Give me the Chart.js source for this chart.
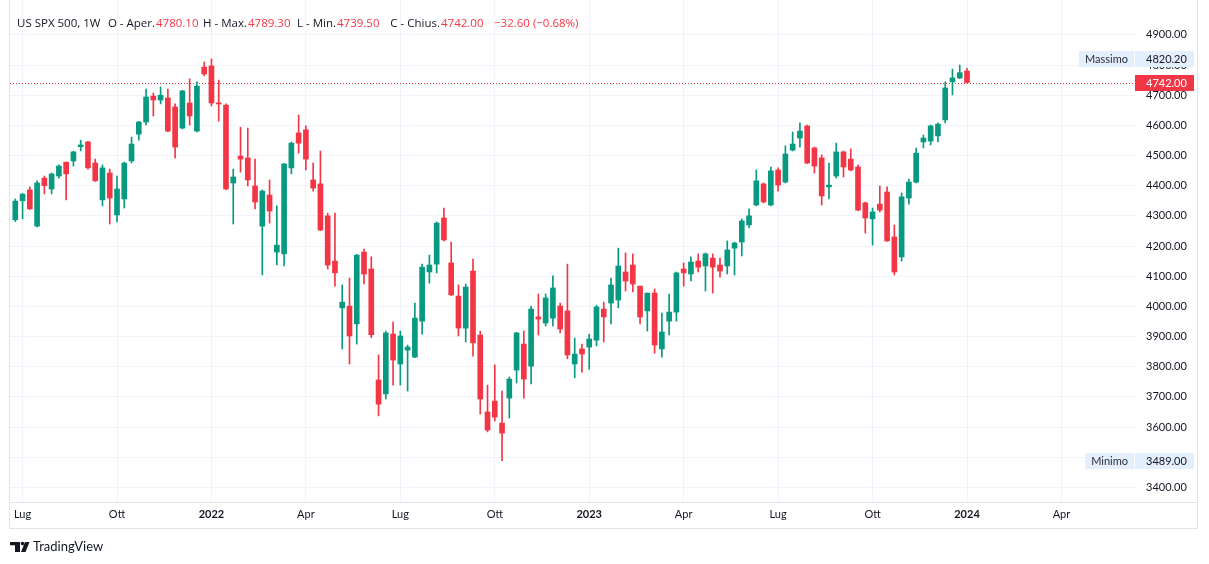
<!DOCTYPE html>
<html>
<head>
<meta charset="utf-8">
<script src="https://cdn.jsdelivr.net/npm/chart.js@4.4.1/dist/chart.umd.min.js"></script>
<style>
html, body { margin: 0; padding: 0; background: #fff; }
canvas { display: block; }
</style>
</head>
<body>
<canvas id="chart" width="1209" height="564"></canvas>
<script>
// weekly candles, first one = week of 28 Jun 2021
const firstWeek = "2021-06-28";
const opens = [4287,4350,4386,4266,4425,4389,4432,4478,4482,4529,4545,4475,4353,4442,4303,4356,4482,4571,4611,4697,
  4684,4691,4661,4591,4674,4581,4793,4797,4674,4667,4409,4498,4492,4399,4266,4369,4180,4174,4459,4575,
  4585,4419,4406,4300,4150,3995,4001,3942,4180,4124,3756,3710,3908,3809,3855,3832,3951,4114,4140,4293,
  4144,4034,3928,4117,3905,3650,3686,3613,3696,3789,3875,3802,3965,3945,3961,4001,3985,3809,3859,3865,
  3888,3991,4011,4021,4114,4137,4067,3985,4044,3859,3951,3981,4124,4107,4150,4134,4160,4137,4134,4193,
  4213,4270,4336,4406,4336,4452,4412,4518,4558,4598,4525,4492,4396,4432,4512,4488,4462,4343,4290,4339,
  4379,4230,4164,4359,4412,4545,4548,4565,4618,4744,4757,4780.1];
const highs = [4356,4374,4396,4416,4432,4442,4469,4478,4514,4551,4547,4488,4469,4455,4432,4478,4561,4613,4720,4707,
  4727,4720,4671,4716,4754,4744,4810,4820.2,4750,4671,4455,4594,4591,4488,4386,4419,4333,4474,4545,4634,
  4598,4475,4515,4309,4309,4071,4094,4172,4190,4164,3839,3918,3948,3918,3872,4011,4140,4170,4280,4326,
  4213,4071,4074,4157,3918,3739,3806,3719,3766,3914,3918,4001,4041,4041,4101,4011,4140,3895,3875,3908,
  4004,4014,4094,4193,4177,4174,4067,4044,4058,3978,4041,4114,4144,4164,4174,4177,4174,4160,4217,4213,
  4290,4323,4452,4409,4462,4459,4532,4578,4608,4601,4528,4502,4475,4541,4515,4522,4469,4346,4326,4399,
  4396,4270,4376,4422,4525,4568,4601,4608,4744,4787,4800,4789.3];
const lows = [4281,4290,4321,4263,4373,4373,4425,4353,4465,4515,4455,4414,4333,4273,4280,4326,4475,4551,4601,4631,
  4671,4579,4492,4588,4601,4578,4764,4664,4614,4387,4273,4445,4399,4323,4104,4276,4137,4134,4439,4508,
  4452,4382,4251,4124,4067,3859,3809,3875,4074,3896,3637,3693,3739,3739,3719,3830,3908,4077,4111,4217,
  4036,3902,3882,3835,3643,3584,3620,3489,3630,3746,3696,3743,3905,3935,3935,3912,3826,3763,3782,3792,
  3869,3882,3942,3995,4051,4048,3942,3918,3845,3832,3905,3951,4067,4084,4114,4051,4044,4097,4107,4104,
  4167,4260,4333,4343,4333,4382,4409,4515,4528,4473,4442,4336,4356,4425,4429,4449,4317,4243,4203,4313,
  4215,4104,4150,4339,4409,4525,4535,4545,4608,4701,4755,4739.5];
const closes = [4349,4372,4323,4409,4400,4439,4465,4439,4512,4535,4459,4416,4459,4359,4389,4475,4538,4611,4694,4684,
  4700,4581,4528,4714,4631,4730,4770,4674,4671,4389,4429,4488,4419,4346,4382,4316,4203,4472,4541,4541,
  4488,4392,4253,4137,4111,4014,3902,4170,4107,3906,3676,3912,3822,3902,3865,3961,4130,4137,4276,4220,
  4038,3928,4064,3879,3693,3590,3633,3580,3759,3912,3759,3991,3958,4028,4061,3925,3839,3842,3842,3892,
  3998,3965,4071,4134,4084,4074,3965,4044,3872,3915,3981,4111,4111,4147,4130,4174,4130,4117,4187,4210,
  4283,4300,4416,4346,4449,4402,4505,4538,4581,4475,4465,4366,4402,4512,4462,4452,4319,4293,4313,4319,
  4217,4114,4363,4412,4508,4558,4598,4604,4724,4757,4774.6,4742];

const tickWeeks = [1, 14, 27, 40, 53, 66, 79, 92, 105, 118, 131, 144];
const tickLabels = ["Lug", "Ott", "2022", "Apr", "Lug", "Ott", "2023", "Apr", "Lug", "Ott", "2024", "Apr"];
const priceTicks = [3400, 3500, 3600, 3700, 3800, 3900, 4000, 4100, 4200, 4300, 4400, 4500, 4600, 4700, 4800, 4900];

const UP = "#089981", DOWN = "#f23645", TEXT = "#131722", FONT = "Lato, 'Open Sans', sans-serif";
const LEGEND_FONT = "11.5px 'Open Sans', Lato, sans-serif";

const weeks = opens.map((o, i) => i);
const candleColors = weeks.map(i => closes[i] >= opens[i] ? UP : DOWN);
const last = opens.length - 1;
const maxHigh = Math.max(...highs), minLow = Math.min(...lows);

// legend line: labels right-aligned against their values
function drawLegend(ctx) {
    const chg = closes[last] - closes[last - 1];
    const pct = chg / closes[last - 1] * 100;
    const sign = v => (v < 0 ? "\u2212" : "+") + Math.abs(v).toFixed(2);
    ctx.font = LEGEND_FONT;
    ctx.textBaseline = "middle";
    ctx.fillStyle = TEXT;
    ctx.textAlign = "left";
    ctx.fillText("US SPX 500, 1W", 17, 24);
    const pairs = [["O - Aper.", opens[last]], ["H - Max.", highs[last]], ["L - Min.", lows[last]], ["C - Chius.", closes[last]]];
    const valueX = [156, 248, 337, 441];
    pairs.forEach((p, k) => {
        ctx.textAlign = "right"; ctx.fillStyle = TEXT;
        ctx.fillText(p[0], valueX[k] - 1, 24);
        ctx.textAlign = "left"; ctx.fillStyle = DOWN;
        ctx.fillText(p[1].toFixed(2), valueX[k], 24);
    });
    ctx.fillText(sign(chg) + " (" + sign(pct) + "%)", 494, 24);
}

function priceBox(ctx, y, label, value, bg, fg) {
    y = Math.round(y);
    ctx.font = "11px " + FONT;
    ctx.textBaseline = "middle";
    ctx.fillStyle = bg;
    ctx.fillRect(1135, y - 8, 59, 16);
    ctx.fillStyle = fg;
    ctx.textAlign = "left";
    ctx.fillText(value, 1146, y);
    if (label) {
        const w = ctx.measureText(label).width + 12;
        ctx.fillStyle = bg;
        ctx.fillRect(1134 - w, y - 8, w, 16);
        ctx.fillStyle = "#2a2e39";
        ctx.textAlign = "center";
        ctx.fillText(label, 1134 - w / 2, y);
    }
}

function drawLogo(ctx) {
    ctx.fillStyle = TEXT;
    ctx.fillRect(10, 542, 10, 3.3);
    ctx.fillRect(15, 542, 5, 10);
    ctx.beginPath(); ctx.arc(22.5, 543.6, 1.8, 0, Math.PI * 2); ctx.fill();
    ctx.beginPath();
    ctx.moveTo(25, 542); ctx.lineTo(29.5, 542); ctx.lineTo(25.5, 552); ctx.lineTo(21, 552);
    ctx.closePath(); ctx.fill();
    ctx.font = "13px " + FONT;
    ctx.textBaseline = "middle";
    ctx.textAlign = "left";
    ctx.fillText("TradingView", 33, 547);
}

const overlay = {
    id: "overlay",
    beforeDatasetsDraw(chart) {
        const { ctx, chartArea, scales } = chart;
        const y = Math.round(scales.y.getPixelForValue(closes[last])) + 0.5;
        ctx.save();
        ctx.strokeStyle = DOWN;
        ctx.lineWidth = 1;
        ctx.setLineDash([1, 2]);
        ctx.beginPath(); ctx.moveTo(chartArea.left, y); ctx.lineTo(chartArea.right, y); ctx.stroke();
        ctx.restore();
    },
    afterDraw(chart) {
        const { ctx, scales } = chart;
        ctx.save();
        // widget frame
        ctx.strokeStyle = "#e0e3eb";
        ctx.lineWidth = 1;
        ctx.beginPath();
        ctx.moveTo(9.5, 0); ctx.lineTo(9.5, 528.5); ctx.lineTo(1197.5, 528.5); ctx.lineTo(1197.5, 0);
        ctx.moveTo(9.5, 502.5); ctx.lineTo(1197.5, 502.5);
        ctx.stroke();
        drawLegend(ctx);
        priceBox(ctx, scales.y.getPixelForValue(maxHigh), "Massimo", maxHigh.toFixed(2), "#e3effd", TEXT);
        priceBox(ctx, scales.y.getPixelForValue(closes[last]), null, closes[last].toFixed(2), DOWN, "#ffffff");
        priceBox(ctx, scales.y.getPixelForValue(minLow), "Minimo", minLow.toFixed(2), "#e3effd", TEXT);
        drawLogo(ctx);
        ctx.restore();
    }
};

new Chart(document.getElementById("chart"), {
    type: "bar",
    data: {
        datasets: [
            { label: "wick", data: weeks.map(i => ({ x: i, y: [lows[i], highs[i]] })), backgroundColor: candleColors,
              barThickness: 1, grouped: false, order: 2 },
            { label: "body", data: weeks.map(i => ({ x: i, y: [opens[i], closes[i]] })), backgroundColor: candleColors,
              barThickness: 5, minBarLength: 1, grouped: false, order: 1 }
        ]
    },
    options: {
        responsive: false,
        animation: false,
        layout: { padding: { left: 10, right: 12, top: 0, bottom: 36 } },
        plugins: { legend: { display: false }, tooltip: { enabled: false } },
        scales: {
            x: {
                type: "linear", min: -0.73, max: 154.4, offset: false,
                afterBuildTicks: axis => { axis.ticks = tickWeeks.map(v => ({ value: v })); },
                afterFit: axis => { axis.height = 26; axis.paddingLeft = 0; axis.paddingRight = 0; },
                grid: { color: "#f0f3fa", drawTicks: false, offset: false },
                border: { display: false },
                ticks: {
                    autoSkip: false, maxRotation: 0, padding: 6, color: TEXT,
                    callback: (v, i) => tickLabels[i],
                    font: c => ({ family: FONT, size: 11, weight: /^\d{4}$/.test(tickLabels[c.index]) ? "bold" : "normal" })
                }
            },
            y: {
                position: "right", min: 3351.6, max: 5015.45,
                afterBuildTicks: axis => { axis.ticks = priceTicks.map(v => ({ value: v })); },
                afterFit: axis => { axis.width = 60; axis.paddingTop = 0; axis.paddingBottom = 0; },
                grid: { color: "#f0f3fa", drawTicks: false },
                border: { display: false },
                ticks: { padding: 9, color: TEXT, font: { family: FONT, size: 11 }, callback: v => v.toFixed(2) }
            }
        }
    },
    plugins: [overlay]
});
</script>
</body>
</html>
